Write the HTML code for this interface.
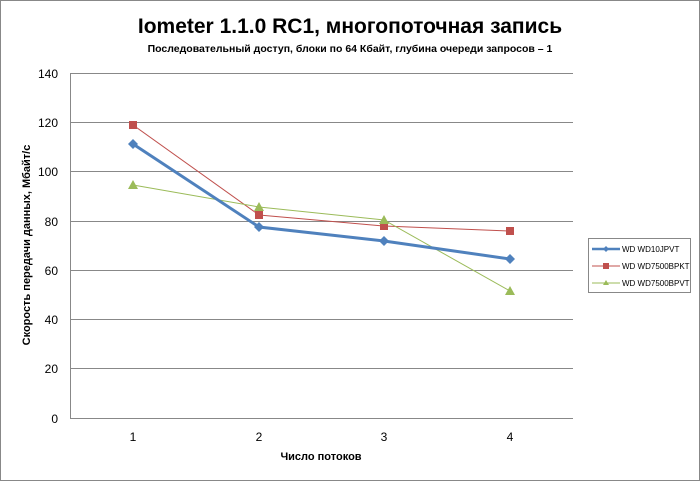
<html><body style="margin:0;background:#fff">
<svg width="700" height="481" xmlns="http://www.w3.org/2000/svg" font-family="Liberation Sans, DejaVu Sans, sans-serif">
<rect x="0.5" y="0.5" width="699" height="480" fill="#fff" stroke="#888"/>
<text x="350" y="33" font-size="21" font-weight="bold" text-anchor="middle">Iometer 1.1.0 RC1, многопоточная запись</text>
<text x="350" y="52" font-size="10.5" font-weight="bold" text-anchor="middle">Последовательный  доступ, блоки  по 64 Кбайт,  глубина очереди запросов – 1</text>
<g stroke="#888" stroke-width="1">
<line x1="70" y1="73.5" x2="573" y2="73.5"/>
<line x1="70" y1="122.5" x2="573" y2="122.5"/>
<line x1="70" y1="171.5" x2="573" y2="171.5"/>
<line x1="70" y1="221.5" x2="573" y2="221.5"/>
<line x1="70" y1="270.5" x2="573" y2="270.5"/>
<line x1="70" y1="319.5" x2="573" y2="319.5"/>
<line x1="70" y1="368.5" x2="573" y2="368.5"/>
<line x1="70" y1="418.5" x2="573" y2="418.5"/>
<line x1="70.5" y1="73" x2="70.5" y2="418"/>
</g>
<g font-size="12" text-anchor="end">
<text x="58" y="78">140</text><text x="58" y="127">120</text><text x="58" y="176">100</text><text x="58" y="226">80</text><text x="58" y="275">60</text><text x="58" y="324">40</text><text x="58" y="373">20</text><text x="58" y="423">0</text>
</g>
<g font-size="12" text-anchor="middle">
<text x="133" y="441">1</text><text x="259" y="441">2</text><text x="384" y="441">3</text><text x="510" y="441">4</text>
</g>
<text x="321" y="460" font-size="11" font-weight="bold" text-anchor="middle">Число  потоков</text>
<text transform="translate(30,245) rotate(-90)" font-size="11" font-weight="bold" text-anchor="middle">Скорость  передачи данных,  Мбайт/с</text>
<polyline points="133,125 259,215 384,226 510,231" fill="none" stroke="#c0504d" stroke-width="1"/>
<polyline points="133,185 259,207 384,220 510,291" fill="none" stroke="#9bbb59" stroke-width="1"/>
<polyline points="133,144 259,227 384,241 510,259" fill="none" stroke="#4f81bd" stroke-width="3"/>
<g fill="#c0504d"><rect x="129" y="121" width="8" height="8"/><rect x="255" y="211" width="8" height="8"/><rect x="380" y="222" width="8" height="8"/><rect x="506" y="227" width="8" height="8"/></g>
<g fill="#9bbb59"><polygon points="133,180 138,189 128,189"/><polygon points="259,202 264,211 254,211"/><polygon points="384,215 389,224 379,224"/><polygon points="510,286 515,295 505,295"/></g>
<g fill="#4f81bd"><polygon points="133,139 138,144 133,149 128,144"/><polygon points="259,222 264,227 259,232 254,227"/><polygon points="384,236 389,241 384,246 379,241"/><polygon points="510,254 515,259 510,264 505,259"/></g>
<rect x="588.5" y="238.5" width="102" height="54" fill="#fff" stroke="#888"/>
<g font-size="8">
<line x1="592" y1="249" x2="620" y2="249" stroke="#4f81bd" stroke-width="2.5"/><polygon points="606,246 609,249 606,252 603,249" fill="#4f81bd"/>
<text x="622" y="252">WD WD10JPVT</text>
<line x1="592" y1="266" x2="620" y2="266" stroke="#c0504d"/><rect x="603" y="263" width="6" height="6" fill="#c0504d"/>
<text x="622" y="269">WD WD7500BPKT</text>
<line x1="592" y1="283" x2="620" y2="283" stroke="#9bbb59"/><polygon points="606,280 609,285 603,285" fill="#9bbb59"/>
<text x="622" y="286">WD WD7500BPVT</text>
</g>
</svg>
</body></html>
